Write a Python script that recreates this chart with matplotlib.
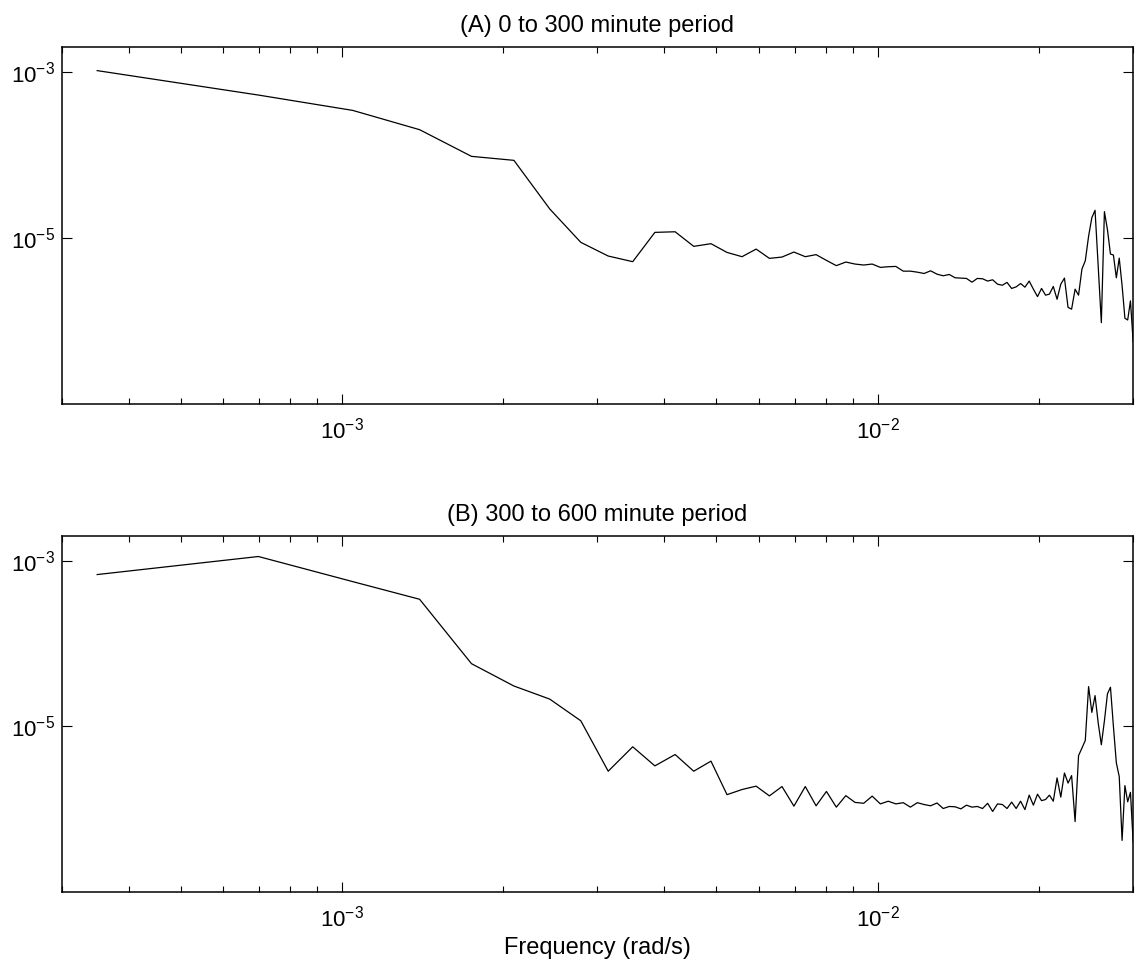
import numpy as np
import matplotlib
matplotlib.use("Agg")
import matplotlib.pyplot as plt
from matplotlib.ticker import LogLocator, NullLocator, LogFormatterSciNotation

plt.rcParams['font.family'] = ['Liberation Sans', 'DejaVu Sans']
plt.rcParams['mathtext.fontset'] = 'custom'
plt.rcParams['mathtext.rm'] = 'Liberation Sans'
plt.rcParams['mathtext.default'] = 'regular'

# harmonic number of each spectral estimate, 300 minute record length
harmonics = np.arange(1, 87)
record_seconds = 300 * 60
freq = 2 * np.pi * harmonics / record_seconds  # rad/s

# power spectral density, first 300 minutes
psd_a = [
    1.04e-3, 5.28e-4, 3.45e-4, 2.02e-4, 9.64e-5, 8.63e-5, 2.24e-5, 8.87e-6, 6.07e-6, 5.19e-6,
    1.17e-5, 1.19e-5, 7.94e-6, 8.55e-6, 6.71e-6, 5.96e-6, 7.36e-6, 5.69e-6, 5.90e-6, 6.78e-6,
    5.96e-6, 6.31e-6, 5.38e-6, 4.65e-6, 5.14e-6, 4.86e-6, 4.73e-6, 4.86e-6, 4.43e-6, 4.51e-6,
    4.55e-6, 3.99e-6, 3.99e-6, 3.88e-6, 3.74e-6, 4.03e-6, 3.67e-6, 3.51e-6, 3.64e-6, 3.32e-6,
    3.29e-6, 3.26e-6, 2.94e-6, 3.26e-6, 3.23e-6, 3.03e-6, 3.14e-6, 2.78e-6, 2.70e-6, 2.92e-6,
    2.47e-6, 2.58e-6, 2.83e-6, 2.56e-6, 3.03e-6, 2.42e-6, 1.97e-6, 2.47e-6, 2.05e-6, 2.11e-6,
    2.61e-6, 1.83e-6, 2.78e-6, 3.29e-6, 1.46e-6, 1.39e-6, 2.42e-6, 2.05e-6, 4.23e-6, 5.32e-6,
    1.05e-5, 1.76e-5, 2.16e-5, 4.55e-6, 9.57e-7, 2.08e-5, 1.26e-5, 6.41e-6, 6.24e-6, 3.32e-6,
    5.73e-6, 2.68e-6, 1.08e-6, 1.03e-6, 1.75e-6, 5.60e-7,
]

# power spectral density, minutes 300 to 600
psd_b = [
    6.84e-4, 1.13e-3, 5.62e-4, 3.44e-4, 5.73e-5, 3.08e-5, 2.14e-5, 1.17e-5, 2.88e-6, 5.68e-6,
    3.34e-6, 4.58e-6, 2.88e-6, 3.81e-6, 1.50e-6, 1.73e-6, 1.90e-6, 1.45e-6, 1.88e-6, 1.09e-6,
    1.88e-6, 1.10e-6, 1.64e-6, 1.06e-6, 1.46e-6, 1.21e-6, 1.18e-6, 1.44e-6, 1.16e-6, 1.25e-6,
    1.16e-6, 1.20e-6, 1.06e-6, 1.20e-6, 1.14e-6, 1.10e-6, 1.19e-6, 1.02e-6, 1.08e-6, 1.07e-6,
    1.01e-6, 1.12e-6, 1.06e-6, 1.08e-6, 1.02e-6, 1.18e-6, 9.40e-7, 1.16e-6, 1.14e-6, 1.02e-6,
    1.22e-6, 1.02e-6, 1.25e-6, 9.90e-7, 1.48e-6, 1.12e-6, 1.52e-6, 1.27e-6, 1.31e-6, 1.48e-6,
    1.25e-6, 2.39e-6, 1.40e-6, 2.74e-6, 2.07e-6, 2.55e-6, 7.10e-7, 4.44e-6, 5.48e-6, 6.78e-6,
    3.03e-5, 1.48e-5, 2.36e-5, 1.10e-5, 6.01e-6, 1.17e-5, 2.48e-5, 2.98e-5, 1.00e-5, 3.63e-6,
    2.48e-6, 4.20e-7, 1.93e-6, 1.23e-6, 1.60e-6, 4.00e-7,
]

titles = ['(A) 0 to 300 minute period', '(B) 300 to 600 minute period']

fig = plt.figure(figsize=(11.41, 9.68), dpi=100)
ax_a = fig.add_axes([0.0543, 0.5826, 0.9387, 0.3688])
ax_b = fig.add_axes([0.0543, 0.0785, 0.9387, 0.3678])

for ax, psd, title in zip([ax_a, ax_b], [psd_a, psd_b], titles):
    ax.loglog(freq, psd, color='black', linewidth=0.9)
    ax.set_xlim(3e-4, 3e-2)
    ax.set_ylim(1e-7, 2e-3)

    ax.xaxis.set_major_locator(LogLocator(base=10, subs=(1.0,)))
    ax.xaxis.set_minor_locator(LogLocator(base=10, subs=np.arange(2, 10)))
    ax.xaxis.set_major_formatter(LogFormatterSciNotation())
    ax.set_yticks([1e-5, 1e-3])
    ax.yaxis.set_minor_locator(NullLocator())

    ax.tick_params(which='both', direction='in', top=True, right=True,
                   labelsize=16, width=0.8, colors='black')
    ax.tick_params(which='major', length=7.5)
    ax.tick_params(axis='x', which='major', pad=10)
    ax.tick_params(axis='y', which='major', pad=5)
    ax.tick_params(which='minor', length=4.3)
    for side in ax.spines.values():
        side.set_linewidth(1.1)

    ax.set_title(title, fontsize=17, pad=11)

ax_b.set_xlabel('Frequency (rad/s)', fontsize=17, labelpad=4)

fig.savefig('out.png', dpi=100)
